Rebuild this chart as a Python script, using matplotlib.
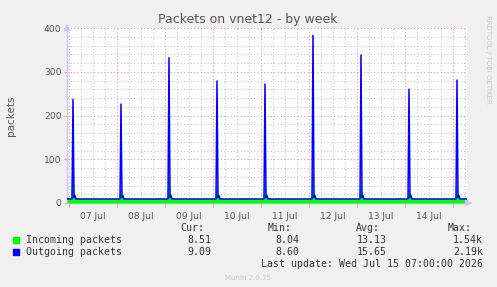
import pandas as pd
import numpy as np
import matplotlib
matplotlib.use("Agg")
import matplotlib.pyplot as plt
import matplotlib.dates as mdates

# time span of the week graph (30 min steps = 1 px)
start = "2026-07-06 23:00"
end = "2026-07-15 07:00"

# baseline rates
incoming_base = 8.5
outgoing_base = 9.1

# daily spike peaks (outgoing / incoming) around 02:00
spike_days = ["2026-07-07", "2026-07-08", "2026-07-09", "2026-07-10", "2026-07-11",
              "2026-07-12", "2026-07-13", "2026-07-14", "2026-07-15"]
outgoing_peaks = [237, 226, 332, 279, 272, 383, 338, 260, 281]
incoming_peaks = [85, 30, 55, 35, 45, 60, 40, 30, 35]
# small bump right after each spike
outgoing_after = [12, 17]
incoming_after = [10, 14]

day_labels = ["07 Jul", "08 Jul", "09 Jul", "10 Jul", "11 Jul", "12 Jul", "13 Jul", "14 Jul"]
y_ticks = [0, 100, 200, 300, 400]

legend_rows = [
    ("Incoming packets", "#00FF00", "8.51", "8.04", "13.13", "1.54k"),
    ("Outgoing packets", "#0000FF", "9.09", "8.60", "15.65", "2.19k"),
]

t = pd.date_range(start, end, freq="30min")
inc = pd.Series(incoming_base, index=t)
out = pd.Series(outgoing_base, index=t)
for d, po, pi in zip(spike_days, outgoing_peaks, incoming_peaks):
    ts = pd.Timestamp(d + " 02:00")
    if ts in out.index:
        out[ts] = po
        inc[ts] = pi
        for k in range(len(outgoing_after)):
            tt = ts + pd.Timedelta(minutes=30 * (k + 1))
            out[tt] = outgoing_after[k]
            inc[tt] = incoming_after[k]

W, H = 497, 287
fig = plt.figure(figsize=(W / 100, H / 100), dpi=100, facecolor="#F0F0F0")
ax = fig.add_axes([67 / W, (H - 203) / H, 400 / W, 175 / H])
ax.set_facecolor("white")

ax.fill_between(t, 0, inc.values, color="#00FF00", lw=0, zorder=3)
ax.plot(t, inc.values, color="#00FF00", lw=1, zorder=3)
ax.plot(t, out.values, color="#0000FF", lw=1.1, zorder=4)

ax.set_xlim(pd.Timestamp(start), pd.Timestamp(end))
ax.set_ylim(0, 400)

ax.xaxis.set_major_locator(mdates.DayLocator())
ax.xaxis.set_minor_locator(mdates.HourLocator(byhour=[6, 12, 18]))
ax.xaxis.set_major_formatter(plt.NullFormatter())
ax.set_yticks(y_ticks)
ax.set_yticks(np.arange(20, 400, 20), minor=True)
ax.set_yticklabels([str(v) for v in y_ticks], fontsize=6.6, color="#555555")

ax.grid(which="major", color="#E89898", linestyle=(0, (1, 2)), lw=0.8, zorder=1)
ax.grid(which="minor", color="#C4C4C4", linestyle=(0, (1, 2)), lw=0.8, zorder=1)
ax.tick_params(axis="x", which="major", length=3, color="#E8A0A0")
ax.tick_params(axis="x", which="minor", length=0)
ax.tick_params(axis="y", which="major", length=2, color="#E8A0A0", pad=2)
ax.tick_params(axis="y", which="minor", length=0)

for s in ["top", "right"]:
    ax.spines[s].set_visible(False)
for s in ["left", "bottom"]:
    ax.spines[s].set_color("#C8C8F0")
    ax.spines[s].set_linewidth(1)

# axis arrows
ax.annotate("", xy=(0, 1.04), xytext=(0, 0.99), xycoords="axes fraction",
            arrowprops=dict(arrowstyle="-|>", color="#C8C8F0", lw=0.8), annotation_clip=False)
ax.annotate("", xy=(1.02, 0), xytext=(0.99, 0), xycoords="axes fraction",
            arrowprops=dict(arrowstyle="-|>", color="#C8C8F0", lw=0.8), annotation_clip=False)

trans = ax.get_xaxis_transform()
for i, lab in enumerate(day_labels):
    x = pd.Timestamp(spike_days[i] + " 12:00")
    ax.text(x, -0.05, lab, transform=trans, ha="center", va="top", fontsize=6.6, color="#555555")

ax.set_ylabel("packets", fontsize=7.5, color="#555555", labelpad=20)

fig.text(248 / W, 1 - 19 / H, "Packets on vnet12 - by week", ha="center", va="center",
         fontsize=9, color="#555555")
fig.text(488 / W, 1 - 15 / H, "RRDTOOL / TOBI OETIKER", rotation=270, ha="center", va="top",
         fontsize=5, color="#C8C8C8")

mono = "DejaVu Sans Mono"
fs = 7.1
col = "#333333"
fig.text(204 / W, 1 - 228 / H, "Cur:", ha="right", va="center", family=mono, fontsize=fs, color=col)
fig.text(292 / W, 1 - 228 / H, "Min:", ha="right", va="center", family=mono, fontsize=fs, color=col)
fig.text(380 / W, 1 - 228 / H, "Avg:", ha="right", va="center", family=mono, fontsize=fs, color=col)
fig.text(472 / W, 1 - 228 / H, "Max:", ha="right", va="center", family=mono, fontsize=fs, color=col)
for r, (name, c, cur, mn, avg, mx) in enumerate(legend_rows):
    y = 1 - (240 + 12 * r) / H
    fig.patches.append(plt.Rectangle((13 / W, y - 3 / H), 6 / W, 6 / H, color=c,
                                     transform=fig.transFigure, figure=fig))
    fig.text(26 / W, y, name, ha="left", va="center", family=mono, fontsize=fs, color=col)
    fig.text(211 / W, y, cur, ha="right", va="center", family=mono, fontsize=fs, color=col)
    fig.text(299 / W, y, mn, ha="right", va="center", family=mono, fontsize=fs, color=col)
    fig.text(387 / W, y, avg, ha="right", va="center", family=mono, fontsize=fs, color=col)
    fig.text(483 / W, y, mx, ha="right", va="center", family=mono, fontsize=fs, color=col)

fig.text(483 / W, 1 - 264 / H, "Last update: Wed Jul 15 07:00:00 2026", ha="right", va="center",
         family=mono, fontsize=fs, color=col)
fig.text(248 / W, 1 - 278 / H, "Munin 2.0.75", ha="center", va="center", fontsize=5,
         color="#C8C8C8")

fig.savefig("out.png", dpi=100, facecolor=fig.get_facecolor())
